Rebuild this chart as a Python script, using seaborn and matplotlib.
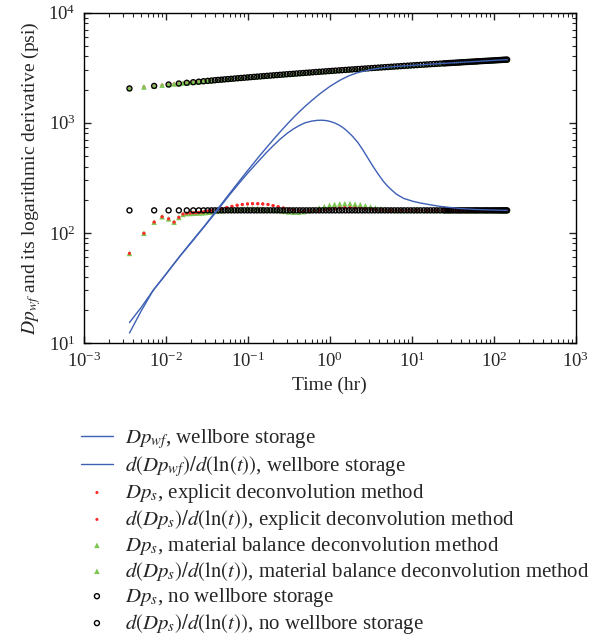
import numpy as np
import pandas as pd
import seaborn as sns
import matplotlib
matplotlib.use("Agg")
import matplotlib.pyplot as plt

# wellbore storage curves (blue lines)
t_wf = [0.0036, 0.005, 0.007, 0.01, 0.015, 0.02, 0.03, 0.042, 0.06, 0.08, 0.1, 0.13, 0.15, 0.2,
        0.245, 0.3, 0.36, 0.43, 0.5, 0.6, 0.755, 1.0, 1.32, 1.7, 2.2, 3.08, 4.0, 5.0, 7.0, 10.0,
        20.0, 50.0, 100.0, 145.0]
dp_wf = [15.3, 21, 30, 42, 62, 81, 117, 162, 228, 300, 370, 471, 536, 690,
         820, 968, 1116, 1272, 1412, 1590, 1833, 2139, 2430, 2668, 2860, 3029, 3130, 3195, 3262, 3322,
         3433, 3578, 3688, 3748]
t_wf_der = [0.0036, 0.005, 0.007, 0.01, 0.015, 0.02, 0.03, 0.042, 0.06, 0.08, 0.1, 0.13, 0.17, 0.2,
            0.245, 0.3, 0.36, 0.43, 0.5, 0.6, 0.7, 0.8, 0.9, 1.0, 1.15, 1.32, 1.5, 1.7, 1.9, 2.2,
            2.55, 3.0, 3.37, 3.9, 4.47, 5.0, 5.5, 6.5, 8.0, 10.4, 13.0, 16.6, 22.0, 29.0, 40.0,
            60.0, 100.0, 145.0]
der_wf = [12.3, 19.5, 30, 42, 62, 80, 116, 158, 222, 288, 350, 435, 540, 610,
          705, 800, 880, 950, 1000, 1035, 1052, 1055, 1047, 1030, 995, 945, 885, 815, 750, 660,
          560, 460, 400, 340, 295, 268, 250, 224, 205, 193, 186, 180, 174, 170, 166,
          163, 161, 160]

# late-time dense sampling shared by all point series
t_dense = [25.5, 27, 28.5, 30, 32, 34, 36, 38, 40, 42.5, 45, 47.5, 50, 53, 56, 59, 62, 65, 69, 73,
           77, 81, 85, 90, 95, 100, 105, 110, 115, 120, 125, 130, 135, 140, 145]
dp_dense = [3470, 3479, 3487, 3495, 3506, 3515, 3525, 3533, 3542, 3551, 3560, 3569, 3577, 3587,
            3595, 3604, 3612, 3619, 3629, 3638, 3646, 3654, 3662, 3671, 3680, 3688, 3696, 3703,
            3710, 3717, 3724, 3730, 3736, 3742, 3748]

# no wellbore storage (black circles)
t_nws = [0.0036, 0.0072, 0.0108, 0.0144, 0.018, 0.0216, 0.0252, 0.0288, 0.0324, 0.036, 0.0396,
         0.0434, 0.0476, 0.0521, 0.0571, 0.0626, 0.0686, 0.0752, 0.0824, 0.0903, 0.099, 0.108,
         0.119, 0.130, 0.143, 0.156, 0.171, 0.188, 0.206, 0.226, 0.247, 0.271, 0.297, 0.326,
         0.357, 0.391, 0.429, 0.470, 0.515, 0.564, 0.618, 0.678, 0.743, 0.814, 0.892, 0.978,
         1.07, 1.17, 1.29, 1.41, 1.55, 1.70, 1.86, 2.04, 2.23, 2.45, 2.68, 2.94, 3.22, 3.53,
         3.87, 4.24, 4.65, 5.09, 5.58, 6.12, 6.70, 7.35, 8.05, 8.83, 9.67, 10.6, 11.6, 12.7,
         14.0, 15.3, 16.8, 18.4, 20.1, 22.1, 24.2] + t_dense
dp_nws = [2051, 2162, 2227, 2273, 2308, 2338, 2362, 2384, 2403, 2419, 2435,
          2450, 2464, 2479, 2494, 2508, 2523, 2538, 2552, 2567, 2582, 2596,
          2611, 2626, 2640, 2655, 2670, 2684, 2699, 2714, 2728, 2743, 2758, 2772,
          2787, 2802, 2816, 2831, 2846, 2860, 2875, 2890, 2904, 2919, 2934, 2948,
          2963, 2978, 2992, 3007, 3022, 3036, 3051, 3066, 3080, 3095, 3110, 3124, 3139, 3154,
          3168, 3183, 3198, 3212, 3227, 3242, 3256, 3271, 3286, 3300, 3315, 3330, 3344, 3359,
          3374, 3388, 3403, 3418, 3432, 3447, 3462] + dp_dense
der_nws_level = 160

# deconvolution results (red dots, green triangles)
t_dec = [0.0036, 0.0054, 0.0072, 0.009, 0.0108, 0.0126, 0.0144, 0.0162, 0.018, 0.0198, 0.0216,
         0.0234, 0.0252, 0.027, 0.0288, 0.0306, 0.0324, 0.0342, 0.036,
         0.0416, 0.048, 0.0555, 0.064, 0.074, 0.0855, 0.099, 0.114, 0.132, 0.152,
         0.176, 0.203, 0.234, 0.271, 0.313, 0.361, 0.417, 0.482, 0.556, 0.642,
         0.742, 0.857, 0.99, 1.14, 1.32, 1.52, 1.76, 2.03, 2.35, 2.71,
         3.13, 3.61, 4.17, 4.82, 5.56, 6.42, 7.42, 8.57, 9.9, 11.4,
         13.2, 15.2, 17.6, 20.3, 23.5] + t_dense
dp_dec = [2051, 2116, 2162, 2198, 2227, 2251, 2273, 2292, 2308, 2324, 2338,
          2350, 2362, 2373, 2384, 2393, 2403, 2411, 2419,
          2442, 2465, 2488, 2511, 2535, 2558, 2581, 2604, 2627, 2650,
          2673, 2696, 2719, 2743, 2766, 2789, 2812, 2835, 2858, 2881,
          2904, 2927, 2950, 2974, 2997, 3020, 3043, 3066, 3089, 3112,
          3135, 3158, 3181, 3204, 3227, 3251, 3274, 3297, 3320, 3343,
          3366, 3389, 3412, 3435, 3458] + dp_dense
der_explicit = [65, 99, 125, 140, 134, 125, 138, 148, 150, 151, 152,
                152, 153, 154, 155, 156, 157, 158, 159,
                162, 166, 170, 174, 178, 181, 183, 184, 184, 183,
                181, 177, 173, 168, 164, 161, 159, 158, 158, 159,
                160, 162, 164, 166, 168, 169, 169, 168, 167, 165,
                164, 162, 161, 160, 160, 160, 160, 160, 160, 160,
                160, 160, 160, 160, 160] + [160] * len(t_dense)
der_matbal = [65, 99, 125, 140, 134, 125, 138, 147, 150, 150, 151,
              151, 152, 152, 153, 153, 154, 155, 155,
              157, 159, 161, 163, 164, 165, 166, 166, 166, 165,
              164, 162, 160, 157, 155, 154, 154, 156, 159, 163,
              168, 173, 178, 181, 183, 184, 184, 182, 180, 176,
              172, 168, 165, 163, 161, 160, 160, 160, 160, 160,
              160, 160, 160, 160, 160] + [160] * len(t_dense)

sns.set_theme(style="ticks")
plt.rcParams["font.family"] = ["Liberation Serif", "DejaVu Serif"]
plt.rcParams["mathtext.fontset"] = "stix"
plt.rcParams["xtick.direction"] = "in"
plt.rcParams["ytick.direction"] = "in"

blue = "#3d5fb4"
red = "#ff2a2a"
green = "#7cc653"

fig = plt.figure(figsize=(6.12, 6.35), dpi=100)
ax = fig.add_axes([0.137, 0.460, 0.804, 0.520])
ax.set_xscale("log")
ax.set_yscale("log")

sns.lineplot(x=t_wf, y=dp_wf, color=blue, lw=1.0, ax=ax, label=r"$Dp_{wf}$, wellbore storage")
sns.lineplot(x=t_wf_der, y=der_wf, color=blue, lw=1.0, ax=ax,
             label=r"$d(Dp_{wf})/d(\ln(t))$, wellbore storage")

sns.scatterplot(x=t_dec, y=dp_dec, marker="o", s=5, color=red, edgecolor="none", ax=ax,
                label=r"$Dp_s$, explicit deconvolution method")
sns.scatterplot(x=t_dec, y=der_explicit, marker="o", s=5, color=red, edgecolor="none", ax=ax,
                label=r"$d(Dp_s)/d(\ln(t))$, explicit deconvolution method")
sns.scatterplot(x=t_dec, y=dp_dec, marker="^", s=16, color=green, edgecolor="none", ax=ax,
                label=r"$Dp_s$, material balance deconvolution method")
sns.scatterplot(x=t_dec, y=der_matbal, marker="^", s=16, color=green, edgecolor="none", ax=ax,
                label=r"$d(Dp_s)/d(\ln(t))$, material balance deconvolution method")
# redraw red on top of the green triangles, without legend entries
sns.scatterplot(x=t_dec, y=der_explicit, marker="o", s=5, color=red, edgecolor="none", ax=ax)

sns.scatterplot(x=t_nws, y=dp_nws, marker="o", s=13, facecolor="none", edgecolor="black",
                linewidth=1.0, ax=ax, label=r"$Dp_s$, no wellbore storage")
sns.scatterplot(x=t_nws, y=[der_nws_level] * len(t_nws), marker="o", s=13, facecolor="none",
                edgecolor="black", linewidth=1.0, ax=ax,
                label=r"$d(Dp_s)/d(\ln(t))$, no wellbore storage")

ax.set_xlim(1e-3, 1e3)
ax.set_ylim(10, 1e4)
ax.tick_params(which="both", top=True, right=True, labelsize=13.5, pad=6)
ax.tick_params(which="major", length=5, width=1)
ax.tick_params(which="minor", length=3, width=0.8)
for s in ax.spines.values():
    s.set_linewidth(1.0)
    s.set_color("black")

ax.set_xlabel("Time (hr)", fontsize=14)
ax.set_ylabel(r"$Dp_{wf}$ and its logarithmic derivative (psi)", fontsize=14, labelpad=4)

handles, labels = ax.get_legend_handles_labels()
ax.get_legend().remove()
fig.legend(handles, labels, loc="upper left", bbox_to_anchor=(0.132, 0.327), frameon=False,
           fontsize=15, borderpad=0, borderaxespad=0, handlelength=1.55, handletextpad=0.55,
           labelspacing=0.14)

fig.savefig("out.png", dpi=100)
